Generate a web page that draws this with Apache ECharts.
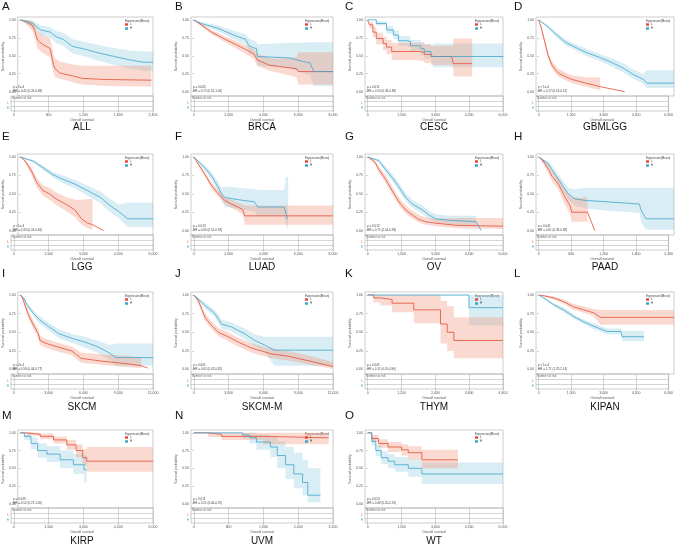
<!DOCTYPE html>
<html>
<head>
<meta charset="utf-8">
<script src="https://cdn.jsdelivr.net/npm/echarts@6/dist/echarts.min.js"></script>
<style>
  html, body { margin: 0; background: #fff; }
  #main { width: 676px; height: 554px; }
</style>
</head>
<body>
<div id="main"></div>
<script>
// panel letters / cancer types
const letters = ["A", "B", "C", "D", "E", "F", "G", "H", "I", "J", "K", "L", "M", "N", "O"];
const names = ["ALL", "BRCA", "CESC", "GBMLGG", "LGG", "LUAD", "OV", "PAAD", "SKCM", "SKCM-M", "THYM", "KIPAN", "KIRP", "UVM", "WT"];
// x tick labels (days)
const xTicks = [
  [0, 600, 1200, 1800, 2400],
  [0, 2000, 4000, 6000, 8000],
  [0, 1500, 3000, 4500, 6000],
  [0, 1500, 3000, 4500, 6000],
  [0, 1500, 3000, 4500, 6000],
  [0, 2000, 4000, 6000, 8000],
  [0, 1500, 3000, 4500, 6000],
  [0, 600, 1200, 1800, 2400],
  [0, 3000, 6000, 9000, 12000],
  [0, 3000, 6000, 9000, 12000],
  [0, 1200, 2400, 3600, 4800],
  [0, 1500, 3000, 4500, 6000],
  [0, 1500, 3000, 4500, 6000],
  [0, 800, 1600, 2400, 3200],
  [0, 1500, 3000, 4500, 6000]
];
const yTicks = [0, 0.25, 0.5, 0.75, 1];
const pValues = ["p = 2e-4", "p = 0.045", "p = 0.011", "p < 1e-4", "p < 1e-4", "p = 0.013", "p = 0.012", "p = 0.041",
  "p = 2e-4", "p = 0.001", "p = 0.045", "p < 1e-4", "p = 0.049", "p = 0.011", "p = 0.024"];
const hrValues = ["0.42 (0.26-0.68)", "0.72 (0.52-1.00)", "0.54 (0.33-0.88)", "0.17 (0.13-0.22)", "0.33 (0.24-0.46)",
  "0.69 (0.51-0.93)", "0.71 (0.54-0.93)", "0.61 (0.38-0.98)", "0.58 (0.44-0.77)", "0.62 (0.47-0.82)",
  "0.11 (0.01-0.96)", "1.71 (1.37-2.14)", "0.52 (0.27-1.00)", "0.21 (0.06-0.70)", "0.48 (0.25-0.91)"];

// KM curves: [time, survival, lower 95%, upper 95%]
const redALL = [[0,1,1,1],[120,0.97,0.93,1],[221,0.92,0.84,0.98],[260,0.85,0.75,0.93],[308,0.72,0.6,0.84],[400,0.66,0.54,0.79],[540,0.6,0.48,0.74],[598,0.38,0.27,0.52],[627,0.32,0.2,0.46],[715,0.26,0.18,0.42],[947,0.22,0.13,0.38],[1121,0.185,0.1,0.36],[1528,0.17,0.08,0.36],[2370,0.16,0.07,0.36]];
const blueALL = [[0,1,1,1],[150,0.97,0.93,1],[221,0.95,0.9,0.99],[366,0.86,0.79,0.92],[540,0.83,0.75,0.9],[657,0.76,0.67,0.84],[773,0.73,0.64,0.82],[947,0.63,0.53,0.73],[1179,0.59,0.49,0.69],[1412,0.54,0.43,0.65],[1702,0.49,0.37,0.61],[1993,0.44,0.32,0.57],[2225,0.41,0.29,0.56],[2400,0.41,0.29,0.56]];
const redBRCA = [[0,1,1,1],[430,0.93,0.91,0.95],[1017,0.83,0.8,0.86],[1800,0.73,0.69,0.77],[2386,0.66,0.61,0.71],[2973,0.59,0.53,0.65],[3462,0.52,0.45,0.59],[3658,0.44,0.36,0.53],[4342,0.37,0.29,0.47],[4929,0.35,0.26,0.46],[5907,0.32,0.2,0.48],[6005,0.28,0.1,0.55],[8000,0.28,0.1,0.55]];
const blueBRCA = [[0,1,1,1],[430,0.95,0.93,0.97],[1408,0.88,0.84,0.92],[2386,0.78,0.72,0.84],[2973,0.73,0.66,0.8],[3169,0.64,0.55,0.74],[3462,0.61,0.51,0.71],[3600,0.6,0.45,0.7],[3658,0.49,0.36,0.66],[5516,0.47,0.33,0.68],[6298,0.42,0.26,0.68],[6689,0.4,0.22,0.69],[6885,0.28,0.08,0.69],[8000,0.28,0.08,0.69]];
const redCESC = [[0,1,1,1],[76,0.93,0.88,0.97],[228,0.83,0.76,0.9],[380,0.74,0.66,0.82],[684,0.67,0.58,0.76],[835,0.62,0.52,0.72],[1063,0.56,0.44,0.68],[2203,0.55,0.43,0.68],[2506,0.52,0.4,0.66],[2810,0.49,0.37,0.64],[3722,0.48,0.35,0.64],[3798,0.39,0.21,0.74],[4633,0.39,0.21,0.74]];
const blueCESC = [[0,1,1,1],[380,0.95,0.92,0.98],[835,0.86,0.81,0.91],[1139,0.79,0.73,0.85],[1367,0.71,0.64,0.78],[1747,0.7,0.62,0.77],[1899,0.64,0.56,0.72],[2355,0.6,0.51,0.69],[2506,0.56,0.46,0.66],[2810,0.52,0.41,0.64],[2886,0.49,0.34,0.67],[6000,0.48,0.33,0.67]];
const redGBM = [[0,1,1,1],[121,0.88,0.85,0.91],[271,0.69,0.65,0.73],[422,0.5,0.46,0.55],[573,0.38,0.33,0.43],[724,0.31,0.26,0.37],[875,0.26,0.21,0.32],[1176,0.21,0.16,0.27],[1478,0.17,0.12,0.23],[2081,0.12,0.07,0.2],[2729,0.07,0.02,0.2]];
const redGBMtail = [[2729,0.07],[3815,0]];
const blueGBM = [[0,1,1,1],[422,0.9,0.88,0.92],[724,0.81,0.78,0.84],[1176,0.69,0.65,0.73],[1478,0.64,0.6,0.68],[2081,0.55,0.5,0.6],[2684,0.48,0.43,0.53],[3287,0.4,0.34,0.46],[3740,0.33,0.27,0.4],[4192,0.24,0.18,0.31],[4645,0.17,0.11,0.25],[4795,0.12,0.05,0.3],[6000,0.12,0.05,0.3]];
const redLGG = [[0,1,1,1],[173,0.96,0.94,0.98],[317,0.9,0.86,0.93],[532,0.79,0.74,0.84],[748,0.65,0.58,0.71],[1036,0.54,0.47,0.61],[1324,0.5,0.42,0.58],[1612,0.43,0.35,0.52],[2043,0.36,0.27,0.46],[2475,0.28,0.18,0.42],[2763,0.16,0.08,0.42],[3051,0.1,0.03,0.43],[3267,0.08,0.01,0.43]];
const redLGGtail = [[3267,0.08],[3770,0]];
const blueLGG = [[0,1,1,1],[604,0.94,0.92,0.96],[1036,0.85,0.82,0.88],[1468,0.76,0.72,0.8],[1899,0.7,0.65,0.75],[2475,0.63,0.57,0.69],[3051,0.54,0.47,0.61],[3626,0.45,0.37,0.53],[4058,0.34,0.25,0.43],[4490,0.25,0.16,0.35],[4849,0.16,0.05,0.38],[6000,0.16,0.05,0.38]];
const redLUAD = [[0,1,1,1],[265,0.9,0.88,0.92],[645,0.76,0.73,0.79],[1024,0.61,0.57,0.65],[1403,0.5,0.46,0.55],[1782,0.41,0.36,0.46],[2161,0.36,0.31,0.42],[2541,0.32,0.26,0.38],[2825,0.28,0.22,0.35],[2920,0.2,0.08,0.34],[8000,0.2,0.08,0.34]];
const blueLUAD = [[0,1,1,1],[645,0.85,0.81,0.89],[1024,0.74,0.69,0.79],[1403,0.59,0.53,0.66],[1593,0.5,0.43,0.58],[1782,0.45,0.32,0.6],[2541,0.42,0.3,0.58],[3489,0.39,0.26,0.56],[3678,0.32,0.2,0.55],[5195,0.32,0.2,0.55],[5290,0.23,0.08,0.72],[5385,0.16,0.03,0.73],[5423,0.16,0.03,0.73]];
const redOV = [[0,1,1,1],[194,0.96,0.94,0.98],[342,0.92,0.89,0.95],[491,0.83,0.79,0.87],[789,0.7,0.65,0.75],[1087,0.54,0.49,0.6],[1385,0.39,0.34,0.45],[1683,0.28,0.23,0.34],[1980,0.21,0.16,0.27],[2278,0.15,0.11,0.21],[2576,0.12,0.08,0.18],[3023,0.1,0.06,0.16],[3991,0.07,0.03,0.17],[6000,0.06,0.02,0.17]];
const blueOV = [[0,1,1,1],[491,0.95,0.93,0.97],[789,0.83,0.79,0.87],[1087,0.72,0.67,0.77],[1385,0.59,0.54,0.65],[1683,0.45,0.4,0.51],[1980,0.36,0.31,0.42],[2427,0.28,0.23,0.34],[2725,0.21,0.16,0.27],[3023,0.16,0.11,0.22],[3618,0.14,0.09,0.2],[4809,0.12,0.06,0.2]];
const blueOVtail = [[4809,0.12],[5033,0]];
const redPAAD = [[0,1,1,1],[59,0.96,0.93,0.99],[117,0.9,0.85,0.95],[176,0.83,0.77,0.89],[234,0.74,0.67,0.81],[351,0.63,0.55,0.72],[410,0.54,0.45,0.64],[468,0.45,0.35,0.56],[556,0.34,0.23,0.47],[585,0.25,0.12,0.45],[866,0.25,0.12,0.45]];
const redPAADtail = [[866,0.25],[995,0]];
const bluePAAD = [[0,1,1,1],[176,0.9,0.86,0.94],[293,0.76,0.7,0.82],[410,0.63,0.56,0.7],[527,0.5,0.42,0.58],[644,0.43,0.34,0.56],[820,0.41,0.3,0.58],[1229,0.39,0.27,0.58],[1786,0.36,0.24,0.58],[1815,0.28,0.12,0.58],[1903,0.16,0.01,0.58],[2400,0.16,0.01,0.58]];
const redSKCM = [[0,1,1,1],[200,0.96,0.93,0.99],[487,0.83,0.79,0.87],[773,0.72,0.67,0.77],[1203,0.59,0.54,0.65],[1632,0.48,0.42,0.54],[1776,0.39,0.33,0.45],[2348,0.35,0.29,0.41],[3208,0.31,0.25,0.37],[4640,0.25,0.19,0.31],[5499,0.15,0.09,0.23],[7504,0.11,0.06,0.2],[9795,0.075,0.03,0.18],[10940,0.05,0.02,0.16]];
const redSKCMtail = [[10940,0.05],[11513,0.02]];
const blueSKCM = [[0,1,1,1],[344,0.95,0.93,0.97],[630,0.86,0.83,0.89],[1203,0.75,0.71,0.79],[1776,0.66,0.61,0.71],[2635,0.57,0.52,0.62],[3494,0.48,0.42,0.54],[4640,0.42,0.36,0.48],[5785,0.37,0.3,0.44],[6931,0.31,0.23,0.39],[8076,0.22,0.13,0.33],[8649,0.16,0.05,0.35],[12000,0.16,0.05,0.35]];
const redSKCMM = [[0,1,1,1],[399,0.92,0.89,0.95],[684,0.81,0.77,0.85],[969,0.7,0.65,0.75],[1539,0.59,0.54,0.64],[2109,0.5,0.45,0.56],[2964,0.44,0.38,0.5],[3819,0.37,0.31,0.43],[4959,0.29,0.23,0.35],[6669,0.21,0.15,0.28],[8094,0.18,0.12,0.25],[10089,0.11,0.06,0.18],[12000,0.04,0.01,0.1]];
const blueSKCMM = [[0,1,1,1],[969,0.86,0.82,0.9],[1824,0.75,0.7,0.8],[2394,0.61,0.55,0.67],[3249,0.57,0.51,0.63],[4389,0.48,0.41,0.55],[5244,0.39,0.31,0.47],[6099,0.33,0.24,0.44],[6954,0.26,0.05,0.44],[12000,0.26,0.05,0.44]];
const redTHYM = [[0,1,1,1],[213,0.96,0.9,1],[450,0.94,0.86,1],[865,0.89,0.77,1],[1635,0.8,0.62,1],[2583,0.61,0.35,0.92],[2820,0.5,0.25,0.85],[3057,0.39,0.15,0.7],[4800,0.39,0.15,0.7]];
const blueTHYM = [[0,1,0.99,1],[3591,0.83,0.59,1],[4800,0.83,0.59,1]];
const redKIPAN = [[0,1,1,1],[222,0.99,0.98,1],[666,0.96,0.94,0.98],[1111,0.91,0.88,0.94],[1555,0.84,0.8,0.88],[2000,0.8,0.76,0.85],[2444,0.76,0.71,0.81],[2740,0.7,0.6,0.8],[6000,0.7,0.6,0.8]];
const blueKIPAN = [[0,1,1,1],[222,0.96,0.95,0.97],[666,0.87,0.85,0.89],[1111,0.8,0.77,0.83],[1555,0.71,0.68,0.74],[2000,0.64,0.61,0.67],[2444,0.58,0.54,0.62],[3036,0.51,0.47,0.55],[3640,0.51,0.47,0.55],[3703,0.44,0.38,0.52],[4666,0.44,0.38,0.52]];
const redKIRP = [[0,1,1,1],[300,0.98,0.96,1],[900,0.95,0.91,0.99],[1500,0.9,0.85,0.95],[2100,0.83,0.76,0.9],[2520,0.75,0.66,0.84],[2820,0.65,0.54,0.77],[3000,0.6,0.45,0.8],[6000,0.6,0.45,0.8]];
const blueKIRP = [[0,1,1,1],[180,0.95,0.9,1],[480,0.85,0.77,0.93],[780,0.75,0.65,0.85],[1200,0.7,0.59,0.81],[1800,0.62,0.5,0.75],[2400,0.55,0.42,0.7],[2880,0.48,0.3,0.68],[3000,0.48,0.3,0.68]];
const redUVM = [[0,1,1,1],[320,0.98,0.94,1],[640,0.95,0.9,1],[1600,0.93,0.84,1],[3100,0.93,0.82,1]];
const blueUVM = [[0,1,1,1],[1120,0.97,0.92,1],[1280,0.93,0.85,1],[1440,0.87,0.76,0.98],[1760,0.8,0.66,0.94],[1920,0.68,0.5,0.88],[2110,0.55,0.35,0.8],[2300,0.42,0.22,0.72],[2500,0.3,0.12,0.62],[2620,0.12,0.02,0.5],[2910,0.12,0.02,0.5]];
const redWT = [[0,1,1,1],[180,0.92,0.87,0.97],[480,0.85,0.79,0.91],[900,0.8,0.73,0.87],[1500,0.76,0.68,0.84],[1800,0.72,0.62,0.81],[2400,0.62,0.5,0.76],[4000,0.62,0.5,0.76]];
const blueWT = [[0,1,1,1],[180,0.88,0.82,0.94],[360,0.75,0.67,0.83],[600,0.65,0.56,0.74],[900,0.6,0.5,0.7],[1200,0.55,0.45,0.66],[1800,0.5,0.38,0.62],[2400,0.42,0.28,0.58],[6000,0.42,0.28,0.58]];

const reds = [redALL, redBRCA, redCESC, redGBM, redLGG, redLUAD, redOV, redPAAD, redSKCM, redSKCMM, redTHYM, redKIPAN, redKIRP, redUVM, redWT];
const blues = [blueALL, blueBRCA, blueCESC, blueGBM, blueLGG, blueLUAD, blueOV, bluePAAD, blueSKCM, blueSKCMM, blueTHYM, blueKIPAN, blueKIRP, blueUVM, blueWT];
const redTails = { 3: redGBMtail, 4: redLGGtail, 7: redPAADtail, 8: redSKCMtail };
const blueTails = { 6: blueOVtail };
// panels with few events keep visible stairs; dense ones look smooth
const stepPanels = [2, 10, 12, 13, 14];

// layout
const colLeft = [11, 191, 365, 536];
const colRight = [153, 333, 503, 674];
const rowTop = [17, 154, 292, 430];
const plotH = [79, 81, 82, 78];
const TABLE_H = 15;
const letterX = [2, 175, 345, 514];
const letterY = [7, 137, 274, 416];
const nameY = [127, 267, 407, 541];

const RED = "#E64B35";
const BLUE = "#3FA6CB";
const RED_BAND = "rgba(240,150,120,0.35)";
const BLUE_BAND = "rgba(120,190,220,0.28)";
const FONT = "Liberation Sans, Arial, sans-serif";
const TINY = 3.5;

function bandSeries(curve, fill, ax, step) {
  return {
    type: "custom",
    xAxisIndex: ax,
    yAxisIndex: ax,
    silent: true,
    clip: true,
    z: 1,
    data: [[curve[0][0], curve[0][1]]],
    renderItem: function(params, api) {
      const up = [];
      const lo = [];
      curve.forEach(function(d, k) {
        up.push(api.coord([d[0], d[3]]));
        lo.push(api.coord([d[0], d[2]]));
        if (step && k + 1 < curve.length) {
          up.push(api.coord([curve[k + 1][0], d[3]]));
          lo.push(api.coord([curve[k + 1][0], d[2]]));
        }
      });
      return {
        type: "polygon",
        shape: { points: up.concat(lo.reverse()) },
        style: { fill: fill }
      };
    }
  };
}

function kmLine(name, curve, color, ax, step) {
  return {
    name: name,
    type: "line",
    xAxisIndex: ax,
    yAxisIndex: ax,
    step: step ? "end" : false,
    data: curve.map(d => [d[0], d[1]]),
    showSymbol: false,
    silent: true,
    z: 3,
    itemStyle: { color: color },
    lineStyle: { color: color, width: 0.8 }
  };
}

function tailLine(tail, color, ax) {
  return {
    type: "line",
    xAxisIndex: ax,
    yAxisIndex: ax,
    data: tail,
    showSymbol: false,
    silent: true,
    z: 3,
    lineStyle: { color: color, width: 0.8 }
  };
}

function txt(x, y, s, size, color, align) {
  return {
    type: "text",
    x: x,
    y: y,
    silent: true,
    style: {
      text: s,
      fontSize: size,
      fontFamily: FONT,
      fill: color || "#333",
      align: align || "left",
      verticalAlign: "middle"
    }
  };
}

const grid = [];
const xAxis = [];
const yAxis = [];
const series = [];
const legend = [];
const graphics = [];

names.forEach(function(nm, i) {
  const r = Math.floor(i / 4);
  const c = i % 4;
  const left = colLeft[c];
  const width = colRight[c] - colLeft[c];
  const top = rowTop[r];
  const h = plotH[r];
  const ticks = xTicks[i];
  const xmax = ticks[ticks.length - 1];
  const xmin = -0.02 * xmax;
  const axP = 2 * i;
  const axT = 2 * i + 1;
  const step = stepPanels.indexOf(i) >= 0;

  grid.push({ left: left, top: top, width: width, height: h, show: true, borderColor: "#9a9a9a", borderWidth: 0.5 });
  grid.push({ left: left, top: top + h, width: width, height: TABLE_H, show: true, borderColor: "#9a9a9a", borderWidth: 0.5 });

  xAxis.push({
    gridIndex: axP, type: "value", min: xmin, max: xmax,
    axisLine: { show: false }, axisTick: { show: false }, axisLabel: { show: false }, splitLine: { show: false }
  });
  xAxis.push({
    gridIndex: axT, type: "value", min: xmin, max: xmax,
    axisLine: { show: false },
    axisTick: { show: true, customValues: ticks, length: 1.5, lineStyle: { color: "#888", width: 0.5 } },
    axisLabel: {
      customValues: ticks, fontSize: TINY, color: "#555", margin: 2, fontFamily: FONT,
      formatter: v => v.toLocaleString("en-US")
    },
    splitLine: { show: false },
    name: "Overall survival", nameLocation: "middle", nameGap: 7,
    nameTextStyle: { fontSize: TINY, color: "#555", fontFamily: FONT }
  });
  yAxis.push({
    gridIndex: axP, type: "value", min: -0.06, max: 1.04,
    axisLine: { show: false },
    axisTick: { show: true, customValues: yTicks, length: 1.5, lineStyle: { color: "#888", width: 0.5 } },
    axisLabel: {
      customValues: yTicks, fontSize: TINY, color: "#555", margin: 2, fontFamily: FONT,
      formatter: v => v.toFixed(2)
    },
    splitLine: { show: false },
    name: "Survival probability", nameLocation: "middle", nameGap: 10,
    nameTextStyle: { fontSize: TINY, color: "#555", fontFamily: FONT }
  });
  yAxis.push({ gridIndex: axT, type: "value", min: 0, max: 3, show: false });

  series.push(bandSeries(blues[i], BLUE_BAND, axP, step));
  series.push(bandSeries(reds[i], RED_BAND, axP, step));
  series.push(kmLine("L" + i, reds[i], RED, axP, step));
  series.push(kmLine("H" + i, blues[i], BLUE, axP, step));
  if (redTails[i]) series.push(tailLine(redTails[i], RED, axP));
  if (blueTails[i]) series.push(tailLine(blueTails[i], BLUE, axP));

  // number at risk table: header + row / column rules
  series.push({
    type: "scatter", xAxisIndex: axT, yAxisIndex: axT, silent: true,
    data: [[xmin, 2.5]], symbolSize: 0,
    label: { show: true, position: "right", distance: 1, formatter: "Number at risk", fontSize: 3, color: "#444", fontFamily: FONT },
    markLine: {
      silent: true, symbol: "none", label: { show: false },
      lineStyle: { color: "#aaa", width: 0.5, type: "solid" },
      data: [{ yAxis: 1 }, { yAxis: 2 }].concat(ticks.map(t => ({ xAxis: t })))
    }
  });

  legend.push({
    data: ["L" + i, "H" + i],
    left: colRight[c] - 28, top: top + 6,
    orient: "vertical", itemWidth: 3, itemHeight: 2.5, itemGap: 1, padding: 0,
    icon: "rect", selectedMode: false,
    formatter: n => n.charAt(0),
    textStyle: { fontSize: 3, color: "#444", fontFamily: FONT, padding: [0, 0, 0, -3] }
  });

  graphics.push(txt(letterX[c], letterY[r], letters[i], 11.5, "#111"));
  graphics.push(txt(left + width / 2, nameY[r], nm, 10, "#111", "center"));
  graphics.push(txt(colRight[c] - 28, top + 4, "Expression(Mean)", 3, "#444"));
  graphics.push(txt(left + 2, top + h - 9, pValues[i], 3, "#444"));
  graphics.push(txt(left + 2, top + h - 5, "HR = " + hrValues[i], 3, "#444"));
  graphics.push(txt(left - 2, top + h + TABLE_H * 0.5, "L", 3, RED, "right"));
  graphics.push(txt(left - 2, top + h + TABLE_H * 0.83, "H", 3, BLUE, "right"));
});

const chart = echarts.init(document.getElementById("main"), null, { renderer: "canvas" });
chart.setOption({
  animation: false,
  backgroundColor: "#fff",
  grid: grid,
  xAxis: xAxis,
  yAxis: yAxis,
  legend: legend,
  series: series,
  graphic: { elements: graphics }
});
</script>
</body>
</html>
